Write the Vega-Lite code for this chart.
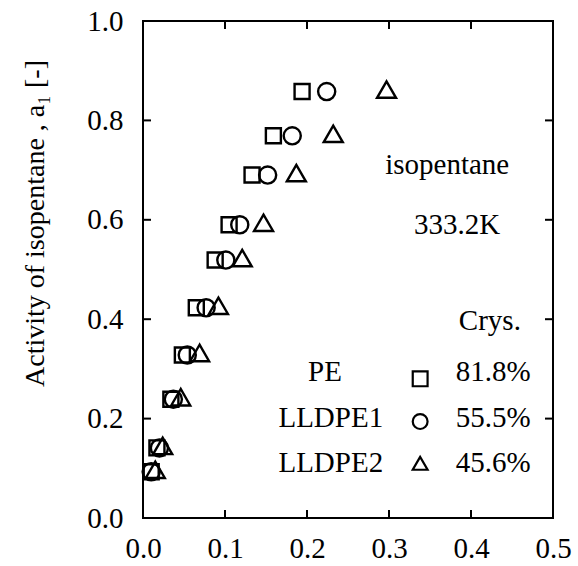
{
  "$schema": "https://vega.github.io/schema/vega-lite/v6.json",
  "width": 410,
  "height": 497,
  "autosize": {"type": "none"},
  "padding": {"left": 143, "top": 21, "right": 25, "bottom": 48},
  "background": "white",
  "config": {
    "view": {"stroke": "black", "strokeWidth": 2},
    "font": "Liberation Serif"
  },
  "datasets": {
    "points": [
      {"polymer": "PE", "x": 0.194, "y": 0.858},
      {"polymer": "LLDPE1", "x": 0.224, "y": 0.858},
      {"polymer": "LLDPE2", "x": 0.297, "y": 0.862},
      {"polymer": "PE", "x": 0.159, "y": 0.769},
      {"polymer": "LLDPE1", "x": 0.182, "y": 0.769},
      {"polymer": "LLDPE2", "x": 0.232, "y": 0.773},
      {"polymer": "PE", "x": 0.133, "y": 0.690},
      {"polymer": "LLDPE1", "x": 0.152, "y": 0.690},
      {"polymer": "LLDPE2", "x": 0.187, "y": 0.694},
      {"polymer": "PE", "x": 0.105, "y": 0.590},
      {"polymer": "LLDPE1", "x": 0.118, "y": 0.590},
      {"polymer": "LLDPE2", "x": 0.147, "y": 0.594},
      {"polymer": "PE", "x": 0.088, "y": 0.519},
      {"polymer": "LLDPE1", "x": 0.101, "y": 0.519},
      {"polymer": "LLDPE2", "x": 0.121, "y": 0.523},
      {"polymer": "PE", "x": 0.065, "y": 0.423},
      {"polymer": "LLDPE1", "x": 0.077, "y": 0.423},
      {"polymer": "LLDPE2", "x": 0.092, "y": 0.427},
      {"polymer": "PE", "x": 0.048, "y": 0.328},
      {"polymer": "LLDPE1", "x": 0.054, "y": 0.328},
      {"polymer": "LLDPE2", "x": 0.069, "y": 0.332},
      {"polymer": "PE", "x": 0.034, "y": 0.239},
      {"polymer": "LLDPE1", "x": 0.037, "y": 0.239},
      {"polymer": "LLDPE2", "x": 0.046, "y": 0.243},
      {"polymer": "PE", "x": 0.017, "y": 0.141},
      {"polymer": "LLDPE1", "x": 0.020, "y": 0.141},
      {"polymer": "LLDPE2", "x": 0.024, "y": 0.145},
      {"polymer": "PE", "x": 0.010, "y": 0.093},
      {"polymer": "LLDPE1", "x": 0.010, "y": 0.093},
      {"polymer": "LLDPE2", "x": 0.015, "y": 0.097}
    ],
    "legendSymbols": [
      {"polymer": "PE", "x": 0.338, "y": 0.280},
      {"polymer": "LLDPE1", "x": 0.338, "y": 0.194},
      {"polymer": "LLDPE2", "x": 0.338, "y": 0.110}
    ],
    "labels": [
      {"label": "isopentane", "x": 0.371, "y": 0.710},
      {"label": "333.2K", "x": 0.383, "y": 0.590},
      {"label": "Crys.", "x": 0.423, "y": 0.396},
      {"label": "PE", "x": 0.222, "y": 0.294},
      {"label": "LLDPE1", "x": 0.229, "y": 0.201},
      {"label": "LLDPE2", "x": 0.229, "y": 0.111},
      {"label": "81.8%", "x": 0.427, "y": 0.294},
      {"label": "55.5%", "x": 0.427, "y": 0.201},
      {"label": "45.6%", "x": 0.427, "y": 0.111}
    ],
    "xTicks": [{"value": 0.1}, {"value": 0.2}, {"value": 0.3}, {"value": 0.4}],
    "yTicks": [{"value": 0.2}, {"value": 0.4}, {"value": 0.6}, {"value": 0.8}]
  },
  "layer": [
    {
      "data": {"name": "points"},
      "mark": {"type": "point", "filled": false, "stroke": "black", "strokeWidth": 2.4, "opacity": 1},
      "encoding": {
        "x": {
          "field": "x", "type": "quantitative",
          "scale": {"domain": [0, 0.5], "nice": false, "zero": false},
          "axis": {
            "orient": "bottom", "values": [0, 0.1, 0.2, 0.3, 0.4, 0.5], "format": ".1f",
            "title": null, "grid": false, "domain": false,
            "ticks": false, "tickSize": 0,
            "labelFontSize": 29, "labelColor": "black",
            "labelPadding": 16, "labelFlush": false
          }
        },
        "y": {
          "field": "y", "type": "quantitative",
          "scale": {"domain": [0, 1], "nice": false, "zero": false},
          "axis": {
            "orient": "left", "values": [0, 0.2, 0.4, 0.6, 0.8, 1.0], "format": ".1f",
            "title": "Activity of isopentane , a₁ [-]",
            "titleFontSize": 28, "titleFontWeight": "normal", "titleColor": "black",
            "titleAngle": -90, "titleX": -108, "titleY": 202, "titleAlign": "center", "titleBaseline": "middle",
            "grid": false, "domain": false,
            "ticks": false, "tickSize": 0,
            "labelFontSize": 29, "labelColor": "black",
            "labelPadding": 20, "labelFlush": false
          }
        },
        "shape": {
          "field": "polymer", "type": "nominal",
          "scale": {"domain": ["PE", "LLDPE1", "LLDPE2"], "range": ["square", "circle", "triangle-up"]},
          "legend": null
        },
        "size": {
          "field": "polymer", "type": "nominal",
          "scale": {"domain": ["PE", "LLDPE1", "LLDPE2"], "range": [225, 361, 324]},
          "legend": null
        }
      }
    },
    {
      "data": {"name": "legendSymbols"},
      "mark": {"type": "point", "filled": false, "stroke": "black", "strokeWidth": 2.2, "opacity": 1, "size": 220},
      "encoding": {
        "x": {"field": "x", "type": "quantitative", "axis": null},
        "y": {"field": "y", "type": "quantitative", "axis": null},
        "shape": {"field": "polymer", "type": "nominal", "legend": null}
      }
    },
    {
      "data": {"name": "labels"},
      "mark": {"type": "text", "fontSize": 29, "color": "black", "align": "center", "baseline": "middle"},
      "encoding": {
        "x": {"field": "x", "type": "quantitative", "axis": null},
        "y": {"field": "y", "type": "quantitative", "axis": null},
        "text": {"field": "label", "type": "nominal"}
      }
    },
    {
      "data": {"name": "xTicks"},
      "mark": {"type": "tick", "orient": "vertical", "color": "black", "opacity": 1, "size": 8, "thickness": 2, "yOffset": -4},
      "encoding": {
        "x": {"field": "value", "type": "quantitative", "axis": null},
        "y": {"datum": 0, "type": "quantitative", "axis": null}
      }
    },
    {
      "data": {"name": "xTicks"},
      "mark": {"type": "tick", "orient": "vertical", "color": "black", "opacity": 1, "size": 8, "thickness": 2, "yOffset": 4},
      "encoding": {
        "x": {"field": "value", "type": "quantitative", "axis": null},
        "y": {"datum": 1, "type": "quantitative", "axis": null}
      }
    },
    {
      "data": {"name": "yTicks"},
      "mark": {"type": "tick", "orient": "horizontal", "color": "black", "opacity": 1, "size": 8, "thickness": 2, "xOffset": 4},
      "encoding": {
        "y": {"field": "value", "type": "quantitative", "axis": null},
        "x": {"datum": 0, "type": "quantitative", "axis": null}
      }
    },
    {
      "data": {"name": "yTicks"},
      "mark": {"type": "tick", "orient": "horizontal", "color": "black", "opacity": 1, "size": 8, "thickness": 2, "xOffset": -4},
      "encoding": {
        "y": {"field": "value", "type": "quantitative", "axis": null},
        "x": {"datum": 0.5, "type": "quantitative", "axis": null}
      }
    }
  ],
  "resolve": {"axis": {"x": "independent", "y": "independent"}}
}
